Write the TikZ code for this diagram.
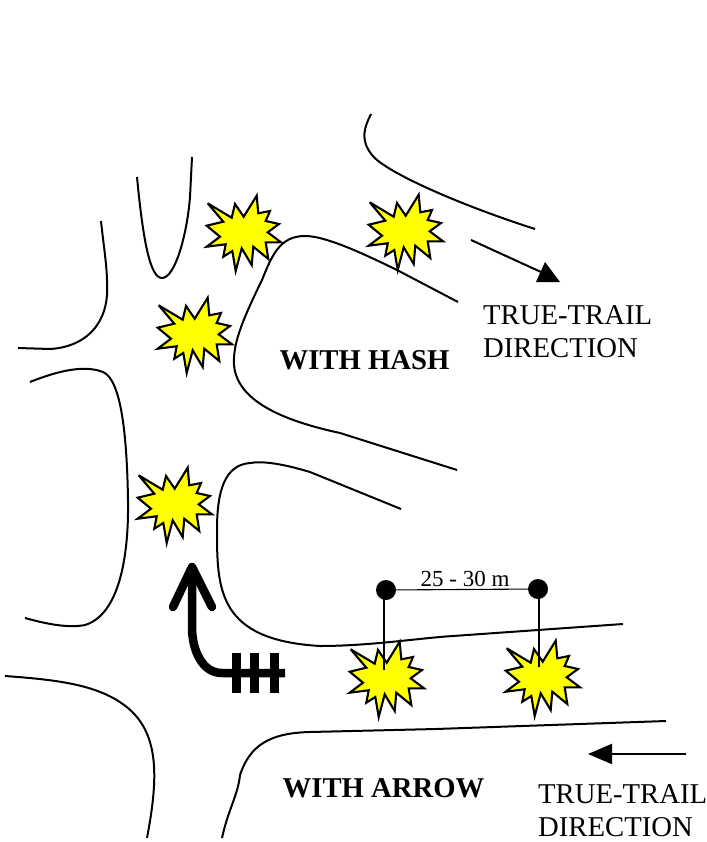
\documentclass[tikz,border=0pt]{standalone}
\usepackage{fontspec}
\setmainfont{Liberation Serif}
\usetikzlibrary{arrows.meta}
\definecolor{pureyellow}{RGB}{255,255,0}
\tikzset{
  x=1pt,y=-1pt,
  trail/.style={draw=black,line width=2pt},
  burstshape/.style={draw=black,line width=2.1pt,fill=pureyellow,line join=miter,miter limit=5},
  thin link/.style={draw=black,line width=1.1pt},
  dot/.style={circle,fill=black,draw=none,minimum size=20pt,inner sep=0pt},
  label text/.style={font=\fontsize{28.7}{33}\selectfont,align=left,anchor=north west,inner sep=0pt},
  bold text/.style={font=\fontsize{28.7}{33}\selectfont\bfseries,inner sep=0pt},
  dist text/.style={font=\fontsize{23}{26}\selectfont,inner sep=0pt},
  thick arrow/.style={draw=black,line width=8.5pt,line cap=round,line join=round},
  hash/.style={draw=black,line width=9pt},
  true line/.style={draw=black,line width=2pt},
  true arrow/.style={draw=black,line width=2pt,-{Triangle[length=24pt,width=20pt]}}
}
\newcommand{\burstat}[2]{%
  \draw[burstshape,shift={(#1,#2)}]
   (-35.3,-29.7)--(-11.3,-15.3)--(-8,-29)--(0.7,-16.3)--(13.7,-37.3)--(15.3,-19.7)--(27,-22)--(22.7,-12)--(36,-9)--(24.7,-0.7)--(38,9.3)--(22.7,9.3)--(25.3,26)--(10.3,13.7)--(8.7,32)--(-1.3,15.3)--(-7.3,38)--(-10.7,18)--(-19.7,23.7)--(-17.3,11.3)--(-36.3,13.7)--(-23,3.7)--(-36.3,-7.3)--(-19.7,-11.3)--cycle;}
\begin{document}
\begin{tikzpicture}
\useasboundingbox (0,0) rectangle (706,842);
% trails
\draw[trail] (137,177) .. controls (143,240) and (150,278) .. (162,278) .. controls (175,278) and (187,235) .. (190,197) -- (192,157);
\draw[trail] (371,114) .. controls (364,128) and (360,140) .. (372,155) .. controls (385,172) and (460,205) .. (535,229);
\draw[trail] (101,221) .. controls (104,250) and (108,270) .. (107,295) .. controls (105,325) and (85,347) .. (50,349) -- (18,348);
\draw[trail] (30,382) .. controls (60,370) and (85,365) .. (103,372) .. controls (122,380) and (127,440) .. (128,500) .. controls (129,560) and (118,615) .. (85,625) .. controls (70,628) and (50,625) .. (25,618);
\draw[trail] (5,676) .. controls (60,680) and (100,685) .. (128,708) .. controls (160,735) and (158,780) .. (147,838);
\draw[trail] (666,721) -- (436,729) -- (310,732) .. controls (270,733) and (250,745) .. (240,775) .. controls (238,795) and (228,810) .. (222,838);
% bursts
\burstat{243}{233}
\burstat{405}{232}
\burstat{194}{335}
\burstat{174}{505}
\burstat{386}{679}
\burstat{542}{678}
\draw[trail] (458,302) -- (397,270) .. controls (360,252) and (325,236) .. (305,236) .. controls (280,236) and (272,255) .. (262,280) .. controls (240,325) and (233,345) .. (234,365) .. controls (237,400) and (280,420) .. (340,433) -- (457,470);
\draw[trail] (401,509) -- (310,472) .. controls (280,463) and (262,461) .. (250,463) .. controls (225,465) and (217,490) .. (217,530) .. controls (217,590) and (218,640) .. (320,646) .. controls (370,646) and (420,638) .. (453,636) -- (623,624);
% distance marks
\node[dot] (d1) at (386,590) {};
\node[dot] (d2) at (538,589) {};
\coordinate (e1) at (384,670);
\coordinate (e2) at (539,667);
\draw[thin link] (d1.center) -- (d2.center);
\draw[thin link] (d1.center -| e1) -- (e1);
\draw[thin link] (d2.center -| e2) -- (e2);
\node[dist text] (dist) at (465,579) {25 - 30 m};
% thick arrow
\coordinate (a0) at (285,673);
\coordinate (a1) at (192,567);
\draw[thick arrow,line cap=butt] (a0) -- (222,673) .. controls (202,673) and (192,650) .. (192,627) -- (a1);
\coordinate (hl) at (173,607);
\coordinate (hr) at (212,607);
\draw[thick arrow] (hl) -- (a1) -- (hr);
\foreach \hx in {236,254,274} \draw[hash] (\hx,653) -- (\hx,693);
% direction arrows
\coordinate (t1) at (471,240);
\coordinate (t2) at (541,272);
\draw[true line] (t1) -- (t2);
\fill[black] (545,262) -- (560,282) -- (536,282) -- cycle;
\coordinate (t3) at (686,754);
\coordinate (t4) at (588,754);
\draw[true arrow] (t3) -- (t4);
% labels
\node[label text] (l1) at (483,305) {TRUE-TRAIL\\DIRECTION};
\node[label text] (l2) at (538,784) {TRUE-TRAIL\\DIRECTION};
\node[bold text] (l3) at (364.5,360) {WITH HASH};
\node[bold text] (l4) at (383.5,788) {WITH ARROW};
\end{tikzpicture}
\end{document}
